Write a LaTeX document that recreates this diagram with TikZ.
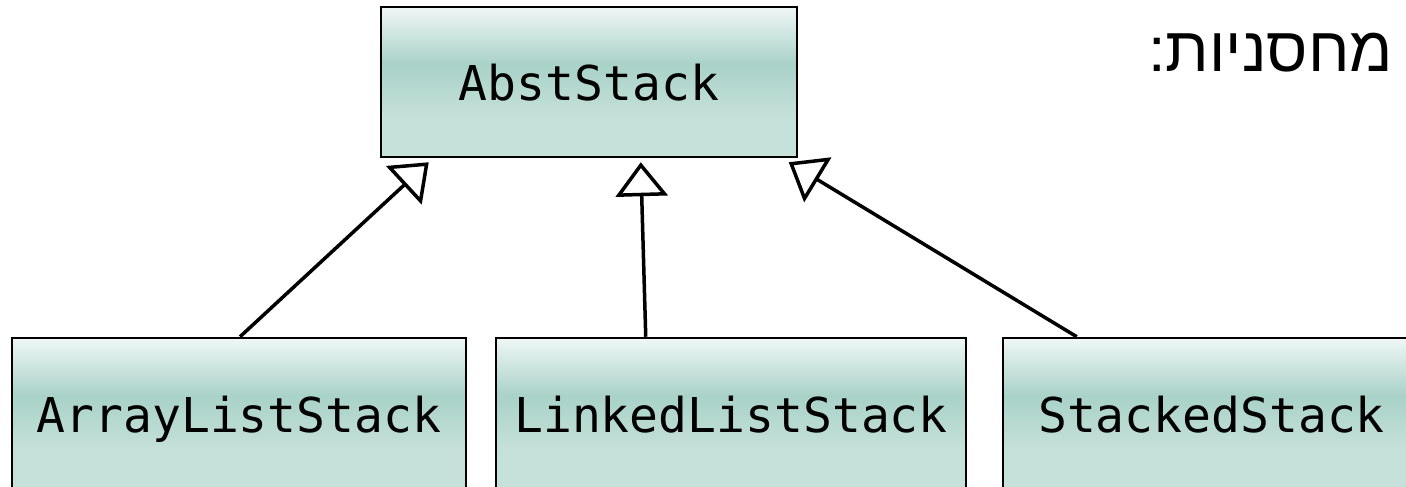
\documentclass[tikz,border=0pt]{standalone}
\usepackage{fontspec}
\setmonofont{DejaVu Sans Mono}
\newfontfamily\hebfont[Script=Hebrew]{Liberation Sans}
\TeXXeTstate=1
\usetikzlibrary{arrows.meta,calc}
\definecolor{shtop}{HTML}{F0F7F5}
\definecolor{shdark}{HTML}{A9D2C8}
\definecolor{shbot}{HTML}{C6E1D9}
\pgfdeclareverticalshading{boxshade}{100bp}{color(0bp)=(shbot); color(25bp)=(shbot); color(38bp)=(shbot); color(56bp)=(shdark); color(75bp)=(shtop); color(100bp)=(shtop)}
\tikzset{
  classbox/.style={draw=black, line width=2.5pt, shading=boxshade, rectangle,
    inner sep=0pt, text height=36pt, text depth=0pt,
    font=\ttfamily\fontsize{48}{52}\selectfont},
  inh/.style={line width=3.5pt, -{Triangle[open,length=34pt,width=52pt]}}
}
\begin{document}
\begin{tikzpicture}[x=1pt,y=-1pt]
\useasboundingbox (0,0) rectangle (1406,487);
\node[classbox, minimum width=416pt, minimum height=150pt] (abs) at (589,82) {AbstStack};
\node[classbox, minimum width=454pt, minimum height=152pt] (als) at (239,414) {ArrayListStack};
\node[classbox, minimum width=470pt, minimum height=152pt] (lls) at (731,414) {LinkedListStack};
\node[classbox, minimum width=417pt, minimum height=152pt] (sts) at (1211.5,414) {StackedStack};
\node[anchor=base east, inner sep=0pt] (title) at (1393,72) {\hebfont\fontsize{63}{70}\selectfont\beginR מחסניות:\endR};
\draw[inh] ([xshift=1pt]als.north) -- ([xshift=49pt,yshift=-4pt]abs.south west);
\draw[inh] ([xshift=151pt]lls.north west) -- ([xshift=261pt,yshift=-4pt]abs.south west);
\draw[inh] ([xshift=75pt]sts.north west) -- ([xshift=409pt,yshift=-4pt]abs.south west);
\end{tikzpicture}
\end{document}
